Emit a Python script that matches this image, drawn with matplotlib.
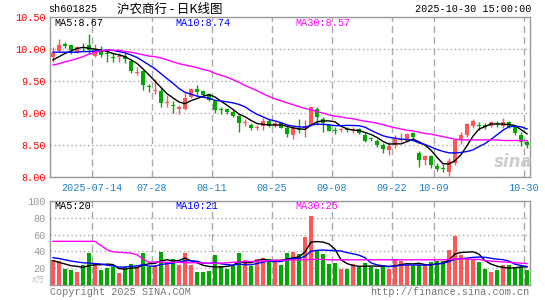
import numpy as np
import pandas as pd
import matplotlib
matplotlib.use('Agg')
import matplotlib.pyplot as plt

plt.rcParams['font.family'] = ['Liberation Mono', 'Noto Sans CJK SC', 'DejaVu Sans']

# ---- daily K data, 2025-07-03 .. 2025-10-30 (80 trading days) ----
opens = [9.87, 9.97, 10.08, 10.06, 9.95, 10.03, 10.06, 9.89, 9.97, 9.93,
         9.87, 9.87, 9.89, 9.82, 9.63, 9.65, 9.41, 9.35, 9.35, 9.15,
         9.12, 9.07, 9.06, 9.25, 9.38, 9.34, 9.29, 9.19, 9.06, 9.06,
         9.02, 8.95, 8.84, 8.82, 8.77, 8.79, 8.88, 8.80, 8.84, 8.77,
         8.66, 8.74, 8.77, 8.81, 9.06, 8.91, 8.81, 8.74, 8.74, 8.74,
         8.73, 8.75, 8.66, 8.60, 8.57, 8.50, 8.42, 8.50, 8.58, 8.57,
         8.69, 8.38, 8.26, 8.33, 8.17, 8.14, 8.08, 8.22, 8.59, 8.65,
         8.80, 8.81, 8.82, 8.79, 8.84, 8.79, 8.86, 8.78, 8.65, 8.55]
highs = [10.03, 10.16, 10.11, 10.07, 10.05, 10.09, 10.24, 10.08, 10.05, 9.97,
         9.94, 9.93, 9.93, 9.84, 9.72, 9.67, 9.45, 9.53, 9.39, 9.28,
         9.19, 9.12, 9.32, 9.39, 9.43, 9.36, 9.31, 9.21, 9.10, 9.07,
         9.04, 8.97, 8.90, 8.84, 8.81, 8.92, 8.90, 8.87, 8.86, 8.79,
         8.79, 8.90, 8.89, 9.10, 9.10, 8.93, 8.83, 8.78, 8.77, 8.78,
         8.78, 8.77, 8.68, 8.62, 8.59, 8.53, 8.55, 8.66, 8.68, 8.69,
         8.71, 8.40, 8.34, 8.34, 8.22, 8.20, 8.29, 8.59, 8.71, 8.85,
         8.90, 8.86, 8.84, 8.88, 8.88, 8.92, 8.88, 8.80, 8.70, 8.58]
lows = [9.80, 9.96, 10.01, 9.92, 9.93, 9.97, 9.92, 9.88, 9.88, 9.79,
        9.80, 9.80, 9.78, 9.62, 9.59, 9.36, 9.33, 9.30, 9.09, 9.10,
        9.00, 8.99, 9.05, 9.23, 9.28, 9.26, 9.18, 9.00, 8.99, 8.99,
        8.93, 8.71, 8.79, 8.74, 8.74, 8.73, 8.78, 8.78, 8.76, 8.63,
        8.59, 8.68, 8.63, 8.80, 8.81, 8.71, 8.72, 8.67, 8.71, 8.70,
        8.68, 8.67, 8.55, 8.56, 8.47, 8.37, 8.34, 8.45, 8.55, 8.56,
        8.57, 8.16, 8.19, 8.14, 8.10, 8.08, 8.02, 8.19, 8.52, 8.63,
        8.77, 8.74, 8.75, 8.78, 8.78, 8.77, 8.77, 8.66, 8.49, 8.46]
closes = [9.93, 10.06, 10.04, 9.98, 10.03, 10.02, 9.99, 9.97, 9.91, 9.92,
          9.86, 9.88, 9.84, 9.65, 9.64, 9.44, 9.40, 9.36, 9.15, 9.16,
          9.11, 9.08, 9.23, 9.38, 9.33, 9.28, 9.21, 9.05, 9.05, 9.02,
          8.95, 8.84, 8.85, 8.76, 8.78, 8.88, 8.80, 8.84, 8.77, 8.67,
          8.76, 8.73, 8.79, 9.09, 8.94, 8.84, 8.72, 8.72, 8.75, 8.73,
          8.74, 8.69, 8.57, 8.59, 8.50, 8.43, 8.48, 8.59, 8.59, 8.67,
          8.63, 8.27, 8.33, 8.19, 8.12, 8.13, 8.25, 8.58, 8.66, 8.83,
          8.87, 8.80, 8.78, 8.86, 8.83, 8.86, 8.78, 8.69, 8.54, 8.50]
# volume, 万手
volumes = [29.8, 28.6, 19.0, 17.9, 15.9, 23.8, 38.0, 25.0, 17.9, 19.8,
           21.0, 14.3, 21.0, 25.0, 21.0, 38.0, 21.0, 23.8, 39.7, 27.8,
           31.0, 23.8, 38.0, 23.8, 15.9, 15.9, 17.0, 35.7, 23.0, 19.0,
           23.0, 38.0, 29.8, 23.0, 31.0, 32.1, 31.0, 28.6, 23.8, 38.5,
           39.7, 36.9, 57.5, 82.5, 41.7, 36.9, 25.4, 26.6, 19.4, 19.4,
           25.0, 21.0, 26.6, 21.0, 18.7, 23.8, 19.4, 31.0, 28.6, 23.8,
           22.6, 23.8, 22.6, 27.0, 28.9, 28.9, 41.7, 58.3, 35.7, 31.0,
           31.0, 27.8, 19.4, 15.5, 18.3, 23.8, 23.8, 21.0, 21.0, 18.3]

ma5_head = [9.83, 9.88, 9.93, 9.97]
ma10_head = [9.95, 9.95, 9.95, 9.95, 9.95, 9.96, 9.96, 9.97, 9.97]
ma30 = [9.75, 9.77, 9.80, 9.82, 9.85, 9.88, 9.92, 9.95, 9.97, 9.98,
        9.98, 9.98, 9.96, 9.95, 9.93, 9.91, 9.89, 9.88, 9.86, 9.83,
        9.80, 9.77, 9.75, 9.73, 9.71, 9.68, 9.66, 9.62, 9.59, 9.56,
        9.52, 9.48, 9.43, 9.39, 9.35, 9.30, 9.26, 9.22, 9.19, 9.16,
        9.13, 9.10, 9.07, 9.05, 9.02, 9.00, 8.97, 8.95, 8.94, 8.92,
        8.91, 8.89, 8.87, 8.86, 8.84, 8.82, 8.79, 8.77, 8.75, 8.73,
        8.72, 8.70, 8.68, 8.67, 8.65, 8.63, 8.61, 8.59, 8.58, 8.58,
        8.58, 8.58, 8.58, 8.58, 8.58, 8.57, 8.57, 8.57, 8.57, 8.57]
vol_ma5_head = [29, 27, 25, 23]
vol_ma10_head = [32.5, 31.5, 30, 28.5, 27.5, 26.5, 26, 25.5, 25]
vol_ma30 = [52, 52, 52, 52, 52, 52, 52, 52,
            47, 42, 39.5, 39, 38.5, 38, 36, 31, 27,
            27.5, 27.5, 27, 27, 27, 26.5, 26.5, 26.5,
            26, 26, 26, 26, 26.5, 27, 27.5,
            28, 28, 28.5, 28.5, 29,
            29.5, 29.5, 29.5, 30, 30, 30,
            30.5, 30.5, 30.5, 30, 30, 30, 30, 30, 30, 30, 30, 30,
            30, 30, 30, 30, 30, 30, 30, 30, 30, 30, 30,
            30.5, 31, 31, 31, 30.5, 30.5,
            29, 28.5, 28, 27.5, 27, 26.5, 26, 25.5]

date_idx = [7, 17, 27, 37, 47, 57, 64, 79]
date_labels = ['2025-07-14', '07-28', '08-11', '08-25', '09-08', '09-22', '10-09', '10-30']

price_labels = ['MA5:8.67', 'MA10:8.74', 'MA30:8.57']
vol_labels = ['MA5:20', 'MA10:21', 'MA30:25']

# ---- derived ----
o = np.array(opens); h = np.array(highs); l = np.array(lows); c = np.array(closes)
v = np.array(volumes)
n = len(c)
x = np.arange(n)

ma5 = pd.Series(c).rolling(5).mean().values
ma5[:4] = ma5_head
ma10 = pd.Series(c).rolling(10).mean().values
ma10[:9] = ma10_head
vma5 = pd.Series(v).rolling(5).mean().values
vma5[:4] = vol_ma5_head
vma10 = pd.Series(v).rolling(10).mean().values
vma10[:9] = vol_ma10_head

RED = '#ff5757'
GREEN = '#00a800'
GRID = '#aaaaaa'
BORDER = '#999999'
BLUE_TXT = '#1f80c8'
line_colors = ['black', '#0000ff', '#ff00ff']

colors = np.where(c >= o, RED, GREEN)

W, H = 545, 300
fig = plt.figure(figsize=(W / 100, H / 100), dpi=100)
fig.patch.set_facecolor('white')


def px(xp, yp):
    return xp / W, 1 - yp / H


ax = fig.add_axes([50 / W, 1 - 177 / H, 480 / W, 160 / H])
axv = fig.add_axes([50 / W, 1 - 285 / H, 480 / W, 84 / H])

FS = 7.3

for a in (ax, axv):
    a.set_xlim(-0.5, n - 0.5)
    for s in a.spines.values():
        s.set_color(BORDER)
        s.set_linewidth(1)
    a.set_xticks([i - 0.5 for i in date_idx])
    a.grid(axis='x', color=GRID, linestyle=(0, (5, 3)), linewidth=1)
    a.grid(axis='y', color=GRID, linestyle=(0, (1, 2)), linewidth=1)
    a.set_axisbelow(True)
    a.tick_params(length=0)

# price panel
ax.set_ylim(8.0, 10.5)
ax.set_yticks(np.arange(8.0, 10.51, 0.5))
ax.set_yticklabels(['%.2f' % t for t in np.arange(8.0, 10.51, 0.5)])
ax.tick_params(axis='y', colors='red', labelsize=FS, pad=3)
ax.set_xticklabels(date_labels)
ax.tick_params(axis='x', colors=BLUE_TXT, labelsize=FS, pad=4)

ax.vlines(x, l, h, colors=colors, linewidth=1, zorder=3)
body_b = np.minimum(o, c)
body_h = np.maximum(np.abs(c - o), 0.016)
ax.bar(x, body_h, bottom=body_b, width=0.82, color=colors, linewidth=0, zorder=3)

for arr, col in zip([ma5, ma10, ma30], line_colors):
    ax.plot(x, arr, color=col, linewidth=1, zorder=4)

# volume panel
axv.set_ylim(0, 100)
axv.set_yticks([20, 40, 60, 80, 100])
axv.tick_params(axis='y', colors=BORDER, labelsize=FS, pad=3)
axv.set_xticklabels([])
axv.bar(x, v, width=0.82, color=colors, linewidth=0, zorder=3)
for arr, col in zip([vma5, vma10, vol_ma30], line_colors):
    axv.plot(x, arr, color=col, linewidth=1, zorder=4)

# header and labels
fig.text(*px(48, 9), 'sh601825', fontsize=FS, va='center', ha='left')
fig.text(*px(117, 9), '沪农商行 - 日K线图', fontsize=9, va='center', ha='left',
         family=['Noto Sans CJK SC', 'DejaVu Sans'])
fig.text(*px(531, 9), '2025-10-30 15:00:00', fontsize=FS, va='center', ha='right')

for lab, col, xp in zip(price_labels, line_colors, [54, 175, 295]):
    fig.text(*px(xp, 23), lab, fontsize=FS, color=col, va='center', ha='left')
for lab, col, xp in zip(vol_labels, line_colors, [54, 175, 295]):
    fig.text(*px(xp, 206), lab, fontsize=FS, color=col, va='center', ha='left')

fig.text(*px(44, 279.5), 'x万', fontsize=5.8, color='#bbbbbb', va='center', ha='right',
         family=['DejaVu Sans', 'Noto Sans CJK SC'], style='italic')
fig.text(*px(50, 292), 'Copyright 2025 SINA.COM', fontsize=FS, color='#777777',
         va='center', ha='left')
fig.text(*px(529, 292), 'http://finance.sina.com.cn', fontsize=FS, color='#777777',
         va='center', ha='right')

# faint sina watermark
fig.text(*px(513, 162), 'sina', fontsize=12, color='#c8c8c8', style='italic',
         weight='bold', va='center', ha='center', family='DejaVu Sans', alpha=0.9)

fig.savefig('out.png', dpi=100)
